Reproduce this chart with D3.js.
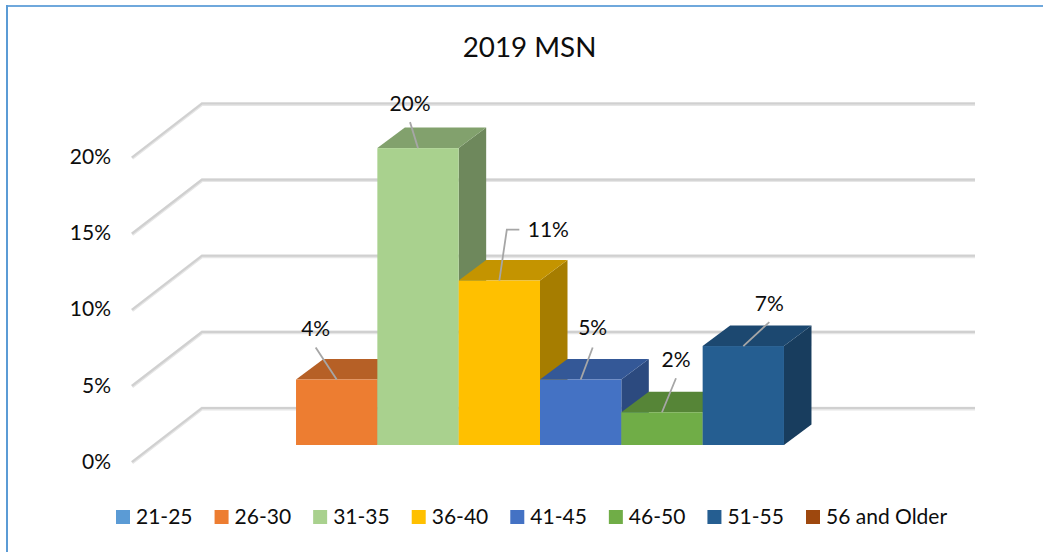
<!DOCTYPE html>
<html>
<head>
<meta charset="utf-8">
<script src="https://cdn.jsdelivr.net/npm/d3@7/dist/d3.min.js"></script>
<style>
html,body{margin:0;padding:0;background:#fff;}
svg{display:block;}
text{font-family:Lato,"Open Sans",sans-serif;fill:#0d0d0d;}
</style>
</head>
<body>
<svg id="c" width="1043" height="552"></svg>
<script>
const title = "2019 MSN";
const categories = ["21-25","26-30","31-35","36-40","41-45","46-50","51-55","56 and Older"];
const values = [0, 0.043, 0.195, 0.108, 0.043, 0.0215, 0.065, 0];
const valueLabels = ["", "4%", "20%", "11%", "5%", "2%", "7%", ""];
const colors = ["#5b9bd5","#ed7d31","#a9d18e","#ffc000","#4472c4","#70ad47","#255e91","#9e480e"];
const axisTicks = [0, 0.05, 0.1, 0.15, 0.2];

// label placement relative to the top-centre of each bar's front face
const labelOffsets = [null,[-21,-52],[-8,-46],[49,-52],[12,-53],[14,-54],[26,-44],null];
const leaderStarts = [null,[-21,-32],[-8,-26],[20,-51],[12,-32],[14,-34],[26,-24],null];

const W = 1043, H = 552;
const svg = d3.select("#c");

// frame
svg.append("line").attr("x1",6).attr("y1",6).attr("x2",W).attr("y2",6).attr("stroke","#6fa8dc").attr("stroke-width",2);
svg.append("line").attr("x1",7).attr("y1",5).attr("x2",7).attr("y2",H).attr("stroke","#5b9bd5").attr("stroke-width",2);

// title
svg.append("text").attr("x",529.5).attr("y",57).attr("text-anchor","middle").attr("font-size",27.8).text(title);

// scales
const y = d3.scaleLinear().domain([0,0.2]).range([462,157.5]);
const x = d3.scaleBand().domain(categories).range([214.7,865.3]).padding(0);
const depthWall = {dx:70, dy:-54};      // side wall depth
const depthBar = {dx:27.5, dy:-20.5};   // bar depth
const floorInset = 17;                  // bars stand this far behind the front edge of the floor
const wallRight = 975;

// gridlines
const grid = svg.append("g").attr("fill","none").attr("stroke-linejoin","miter");
const gridPath = d => {
  const p = d3.path();
  p.moveTo(132, y(d));
  p.lineTo(132+depthWall.dx, y(d)+depthWall.dy);
  p.lineTo(wallRight, y(d)+depthWall.dy);
  return p.toString();
};
grid.selectAll("path.g2").data(axisTicks).join("path").attr("d",gridPath).attr("stroke","#e6e6e6").attr("stroke-width",3.6).attr("transform","translate(0,0.6)");
grid.selectAll("path.g1").data(axisTicks).join("path").attr("d",gridPath).attr("stroke","#d0d0d0").attr("stroke-width",2.2);

// axis labels
const axis = d3.axisLeft(y).tickValues(axisTicks).tickFormat(d3.format(".0%")).tickSize(0).tickPadding(0);
const axG = svg.append("g").attr("transform","translate(111,-0.5)").call(axis);
axG.select(".domain").remove();
axG.selectAll("text").attr("font-size",21).attr("font-family","Lato").attr("fill","#0d0d0d");

// bars
const shade = (c,k) => { const r=d3.rgb(c); return d3.rgb(r.r*k,r.g*k,r.b*k).formatHex(); };
const barData = categories.map((c,i)=>({c,v:values[i],color:colors[i],i})).filter(d=>d.v>0);
const bars = svg.append("g").selectAll("g").data(barData).join("g");
const poly = pts => pts.map(p=>p.join(",")).join(" ");
const geom = d => {
  const x0=x(d.c), x1=x0+x.bandwidth(), b=y(0)-floorInset, t=y(d.v)-floorInset;
  return {x0,x1,b,t};
};
bars.append("polygon").attr("fill",d=>shade(d.color,0.65)).attr("points",d=>{
  const g=geom(d);
  return poly([[g.x1,g.t],[g.x1+depthBar.dx,g.t+depthBar.dy],[g.x1+depthBar.dx,g.b+depthBar.dy],[g.x1,g.b]]);
});
bars.append("polygon").attr("fill",d=>shade(d.color,0.77)).attr("points",d=>{
  const g=geom(d);
  return poly([[g.x0,g.t],[g.x0+depthBar.dx,g.t+depthBar.dy],[g.x1+depthBar.dx,g.t+depthBar.dy],[g.x1,g.t]]);
});
bars.append("rect").attr("fill",d=>d.color)
  .attr("x",d=>geom(d).x0).attr("y",d=>geom(d).t)
  .attr("width",x.bandwidth()).attr("height",d=>geom(d).b-geom(d).t);

// leader lines and value labels
const anchor = d => [x(d.c)+x.bandwidth()/2, y(d.v)-floorInset];
const labels = svg.append("g").selectAll("g").data(barData).join("g");
labels.append("path").attr("fill","none").attr("stroke","#a6a6a6").attr("stroke-width",1.8).attr("d",d=>{
  const a=anchor(d), s=leaderStarts[d.i], p=d3.path();
  p.moveTo(a[0],a[1]);
  p.lineTo(a[0]+s[0]+(d.i===3?7.5-20:0),a[1]+s[1]);
  if(d.i===3) p.lineTo(a[0]+s[0],a[1]+s[1]);
  return p.toString();
});
labels.append("text").attr("text-anchor","middle").attr("dominant-baseline","central").attr("font-size",21)
  .attr("x",d=>anchor(d)[0]+labelOffsets[d.i][0])
  .attr("y",d=>anchor(d)[1]+labelOffsets[d.i][1])
  .text(d=>valueLabels[d.i]);

// legend
const legendX = d3.scalePoint().domain(categories).range([116,806]);
const legend = svg.append("g").selectAll("g").data(categories).join("g")
  .attr("transform",d=>`translate(${legendX(d)},510)`);
legend.append("rect").attr("width",14).attr("height",14).attr("fill",(d,i)=>colors[i]);
legend.append("text").attr("x",20).attr("y",14).attr("font-size",21).text(d=>d);
</script>
</body>
</html>
